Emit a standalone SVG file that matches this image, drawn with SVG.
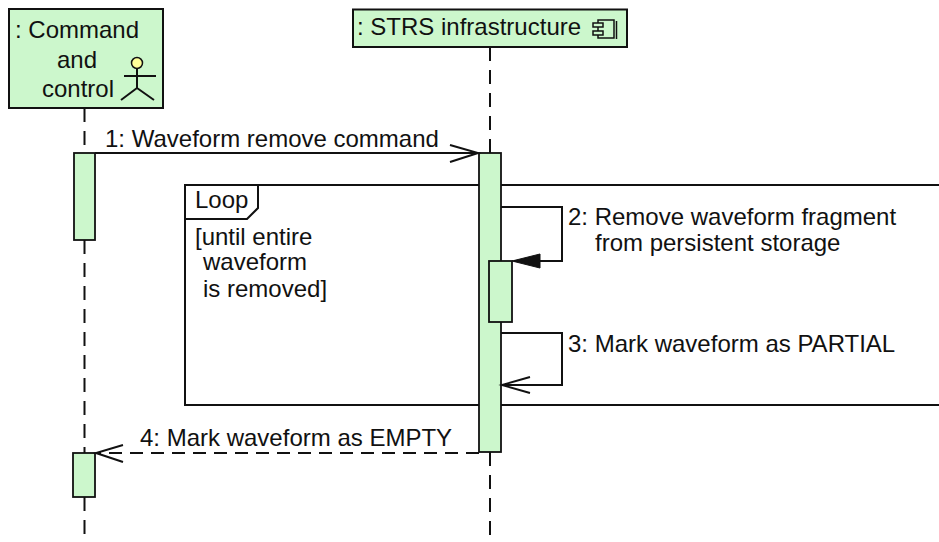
<svg xmlns="http://www.w3.org/2000/svg" width="939" height="542" viewBox="0 0 939 542">
<defs>
<style>
text{font-family:"Liberation Sans",Arial,sans-serif;font-size:24px;fill:#111}
.box{fill:#ccf7cc;stroke:#111;stroke-width:2}
.act{fill:#ccf7cc;stroke:#111;stroke-width:1.8}
.life{stroke:#111;stroke-width:2;stroke-dasharray:14 9;fill:none}
.msg{stroke:#111;stroke-width:2;fill:none}
.dash{stroke:#111;stroke-width:2;fill:none;stroke-dasharray:13 8}
.frame{stroke:#111;stroke-width:2;fill:none}
</style>
</defs>
<rect width="939" height="542" fill="#fff"/>
<g id="lifelines">
<line class="life" x1="84.5" y1="108" x2="84.5" y2="153"/>
<line class="life" x1="84.5" y1="240" x2="84.5" y2="453"/>
<line class="life" x1="84.5" y1="497" x2="84.5" y2="542"/>
<line class="life" x1="490" y1="47" x2="490" y2="153"/>
<line class="life" x1="490" y1="452" x2="490" y2="542"/>
</g>
<g id="loop-frame">
<rect class="frame" x="185" y="185" width="770" height="220"/>
<path class="frame" d="M185 219 H247 L258 208 V185"/>
<text x="195" y="208">Loop</text>
<text x="195" y="245">[until entire</text>
<text x="203" y="270">waveform</text>
<text x="203" y="297">is removed]</text>
</g>
<g id="actor-command-and-control">
<rect class="box" x="9" y="9" width="154" height="99"/>
<text x="15" y="38">: Command</text>
<text x="57" y="68">and</text>
<text x="42" y="97">control</text>
<circle cx="137" cy="63" r="5.5" fill="#ffff99" stroke="#111" stroke-width="1.5"/>
<path d="M137 68.5 V88 M124 76 H156 M137 88 L121 100 M137 88 L154 100" stroke="#111" stroke-width="2" fill="none"/>
</g>
<g id="component-strs-infrastructure">
<rect class="box" x="353" y="9.5" width="274" height="37.5"/>
<text x="357" y="35">: STRS infrastructure</text>
<rect x="598" y="20" width="16" height="18" fill="#ccf7cc" stroke="#111" stroke-width="1.5"/>
<line x1="616.5" y1="21" x2="616.5" y2="39" stroke="#111" stroke-width="1.5"/>
<rect x="593" y="23" width="10" height="4" fill="#ccf7cc" stroke="#111" stroke-width="1.5"/>
<rect x="593" y="31" width="10" height="4" fill="#ccf7cc" stroke="#111" stroke-width="1.5"/>
</g>
<g id="activations">
<rect class="act" x="74" y="153" width="21" height="87"/>
<rect class="act" x="479" y="153" width="22" height="299"/>
<rect class="act" x="489" y="261" width="23" height="61"/>
<rect class="act" x="73" y="453" width="22" height="44"/>
</g>
<g id="connectors">
<line class="msg" x1="95" y1="153" x2="478" y2="153"/>
<path class="msg" d="M450 145 L478 153 L450 162"/>
<path class="msg" d="M501 207 H562 V261 H514"/>
<path d="M512 261 L540 254 L540 268 Z" fill="#111" stroke="#111" stroke-width="1"/>
<path class="msg" d="M501 333 H562 V385 H502"/>
<path class="msg" d="M530 377 L502 385 L530 393"/>
<line class="dash" x1="479" y1="453" x2="96" y2="453"/>
<path class="msg" d="M123 445 L96 453 L123 462"/>
</g>
<g id="labels">
<text x="105" y="147">1: Waveform remove command</text>
<text x="568" y="225">2: Remove waveform fragment</text>
<text x="595" y="250.5">from persistent storage</text>
<text x="568" y="352">3: Mark waveform as PARTIAL</text>
<text x="140" y="446">4: Mark waveform as EMPTY</text>
</g>
</svg>
